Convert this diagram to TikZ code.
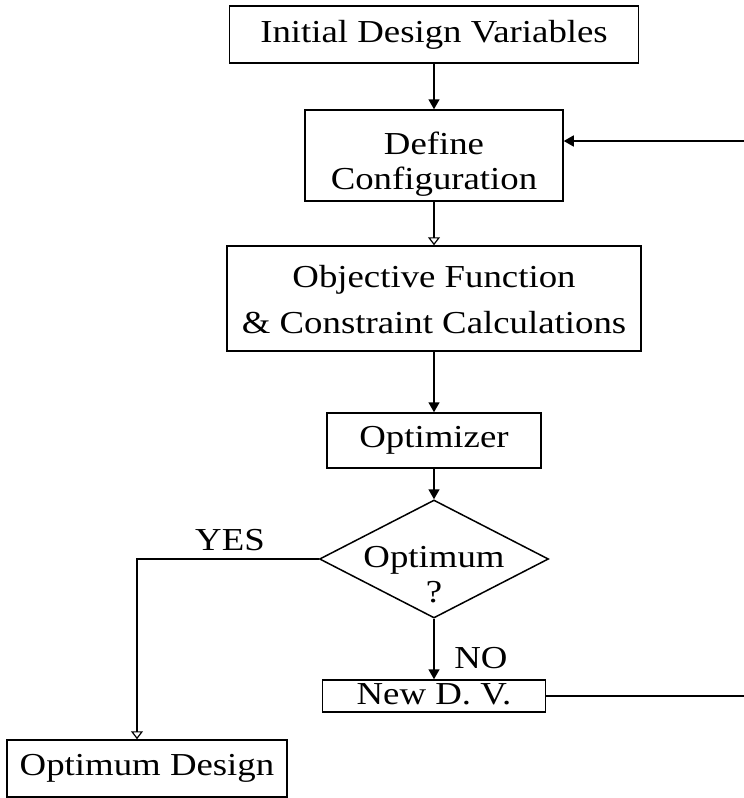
\documentclass[tikz,border=0pt]{standalone}
\usepackage{fontspec}
\setmainfont{Liberation Serif}[FakeStretch=1.15]
\usepackage{tikz}
\usetikzlibrary{arrows.meta}
\usetikzlibrary{shapes.geometric, calc}

\begin{document}
\begin{tikzpicture}[x=1pt, y=-1pt,
        boite/.style={draw, line width=1.5pt, inner sep=0pt, align=center, font=\fontsize{32}{35}\selectfont},
        losange/.style={draw, diamond, line width=1.5pt, inner sep=0pt, minimum width=229pt, minimum height=118pt},
        texte/.style={font=\fontsize{32}{35}\selectfont},
        fleche/.style={line width=1.6pt, -{Triangle[length=10pt,width=11pt]}},
        flecheouv/.style={line width=1.2pt, -{Triangle[open,length=8pt,width=12pt]}}]
        % Cadre de la figure
        \clip (0,0) rectangle (744,798);

        % Les boites du schema
        \node[boite, minimum width=409pt, minimum height=57pt] (init) at (434,34.5) {Initial Design Variables};
        \node[boite, minimum width=258pt, minimum height=91pt] (define) at (434,155.5) {\raisebox{-9pt}[\height][\depth]{\begin{tabular}{@{}c@{}}Define\\Configuration\end{tabular}}};
        \node[boite, minimum width=414pt, minimum height=105pt] (objf) at (434,298.5) {\raisebox{-5pt}[\height][\depth]{\begin{tabular}{@{}c@{}}Objective Function\\[11pt]\& Constraint Calculations\end{tabular}}};
        \node[boite, minimum width=214pt, minimum height=55pt] (optim) at (434,440.5) {Optimizer};
        \node[losange] (test) at (434,559) {};
        \node[texte, align=center] (testtxt) at (434,575) {Optimum\\?};
        \node[boite, minimum width=223pt, minimum height=32pt] (newdv) at (434,696) {\raisebox{2pt}[\height][\depth]{New D. V.}};
        \node[boite, minimum width=280pt, minimum height=57pt] (optdes) at (147,768.5) {Optimum Design};

        % Les etiquettes
        \node[texte, anchor=base] (oui) at (230,550) {YES};
        \node[texte, anchor=base] (non) at (481,668) {NO};

        % Points de passage des lignes
        \coordinate (coinoui) at (137,559);
        \coordinate (boucle) at (752,696);
        \coordinate (retour) at (752,141);

        % Les fleches
        \draw[fleche] (init) -- (define);
        \draw[flecheouv] (define) -- (objf);
        \draw[fleche] (objf) -- (optim);
        \draw[fleche] (optim) -- (test);
        \draw[fleche] (test) -- (newdv);
        \draw[flecheouv] (test.west) -- (coinoui) -- (coinoui |- optdes.north);
        \draw[fleche] (newdv.east) -- (boucle) -- (retour) -- (retour -| define.east);
    \end{tikzpicture}
\end{document}
